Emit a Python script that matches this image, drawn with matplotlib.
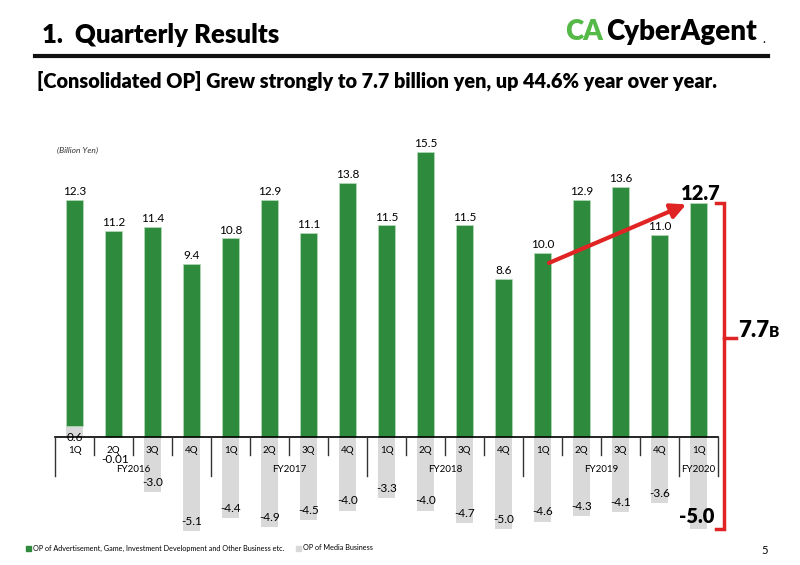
import numpy as np
import matplotlib
matplotlib.use("Agg")
import matplotlib.pyplot as plt

plt.rcParams['font.family'] = ['Lato', 'DejaVu Sans']

quarters = ['1Q', '2Q', '3Q', '4Q'] * 4 + ['1Q']
fiscal_years = ['FY2016', 'FY2017', 'FY2018', 'FY2019', 'FY2020']
fy_centers = [1.5, 5.5, 9.5, 13.5, 16]
other_op = [12.3, 11.2, 11.4, 9.4, 10.8, 12.9, 11.1, 13.8, 11.5, 15.5,
            11.5, 8.6, 10.0, 12.9, 13.6, 11.0, 12.7]
media_op = [0.6, -0.01, -3.0, -5.1, -4.4, -4.9, -4.5, -4.0, -3.3, -4.0,
            -4.7, -5.0, -4.6, -4.3, -4.1, -3.6, -5.0]
media_labels = ['0.6', '-0.01', '-3.0', '-5.1', '-4.4', '-4.9', '-4.5', '-4.0', '-3.3',
                '-4.0', '-4.7', '-5.0', '-4.6', '-4.3', '-4.1', '-3.6', '-5.0']

GREEN = '#2e8b3e'
GREY = '#d9d9d9'
RED = '#e02424'

W, H = 800, 565
fig = plt.figure(figsize=(8, 5.65), dpi=100)

# axes placed in pixel space: x 55..718, y 140..545
left, right, top, bottom = 55, 718, 140, 545
ax = fig.add_axes([left / W, 1 - bottom / H, (right - left) / W, (bottom - top) / H])
ppu = 18.4
zero_y = 437
ax.set_xlim(-0.5, len(other_op) - 0.5)
ax.set_ylim(-(bottom - zero_y) / ppu, (zero_y - top) / ppu)
ax.axis('off')

x = np.arange(len(other_op))
media = np.array(media_op)
base = np.where(media > 0, media, 0)
ax.bar(x, media, width=0.44, color=GREY, zorder=1)
ax.bar(x, other_op, bottom=base, width=0.44, color=GREEN,
       edgecolor='#b5dbb9', linewidth=0.5, zorder=2)

# zero line and separators
ax.plot([-0.5, len(x) - 0.5], [0, 0], color='black', lw=1.2, clip_on=False, zorder=3)
for i in range(len(x) + 1):
    long_tick = i in (0, 4, 8, 12, 16, 17)
    ax.plot([i - 0.5, i - 0.5], [0, -2.1 if long_tick else -1.0],
            color='#333333', lw=1.0, clip_on=False, zorder=3)
for i, q in enumerate(quarters):
    ax.text(i, -0.72, q, ha='center', va='center', fontsize=7, zorder=4)
for c, fy in zip(fy_centers, fiscal_years):
    ax.text(c, -1.75, fy, ha='center', va='center', fontsize=7, zorder=4)

# value labels
for i in range(len(x) - 1):
    ax.annotate(f'{other_op[i]:.1f}', (i, other_op[i] + base[i]), xytext=(0, 2),
                textcoords='offset points', ha='center', va='bottom', fontsize=8.5)
    if media[i] > 0:
        ax.text(i, media[i] * 0.45, media_labels[i], ha='center', va='top', fontsize=8.5, zorder=4)
    elif media[i] > -0.5:
        ax.text(i + 0.05, -1.22, media_labels[i], ha='center', va='center', fontsize=8.5, zorder=4)
    else:
        ax.annotate(media_labels[i], (i, media[i]), xytext=(0, 3),
                    textcoords='offset points', ha='center', va='bottom', fontsize=8.5)
last = len(x) - 1
ax.annotate(f'{other_op[last]:.1f}', (last, other_op[last]), xytext=(2, 0),
            textcoords='offset points', ha='center', va='bottom', fontsize=14.5, fontweight='heavy')
ax.annotate(media_labels[last], (last, media[last]), xytext=(-1, 2),
            textcoords='offset points', ha='center', va='bottom', fontsize=14.5, fontweight='heavy')

# growth arrow
ax.annotate('', xy=(last - 0.25, other_op[last]), xytext=(12.1, 9.4),
            arrowprops=dict(arrowstyle='-|>,head_length=0.9,head_width=0.45',
                            color=RED, lw=3), zorder=5)

# bracket
bx = 16.65
ax.plot([16.45, bx, bx, 16.45], [other_op[last], other_op[last], media[last], media[last]],
        color=RED, lw=2.5, clip_on=False, solid_joinstyle='miter')
ax.plot([bx, bx + 0.32], [5.4, 5.4], color=RED, lw=2.5, clip_on=False)
ax.text(bx + 0.36, 5.45, '7.7', fontsize=16, fontweight='heavy', va='baseline', ha='left')
ax.text(bx + 1.15, 5.45, 'B', fontsize=11, fontweight='heavy', va='baseline', ha='left')

# headers
fig.text(42 / W, 1 - 35 / H, '1.  Quarterly Results', fontsize=18.5, fontweight='heavy', va='center')
fig.add_artist(plt.Line2D([35 / W, 768 / W], [1 - 56 / H] * 2, color='#111111', lw=3))
fig.text(37 / W, 1 - 81 / H,
         '[Consolidated OP] Grew strongly to 7.7 billion yen, up 44.6% year over year.',
         fontsize=14.3, fontweight='heavy', va='center')
fig.text(565 / W, 1 - 32 / H, 'CA', fontsize=20, fontweight='heavy', color='#55b947', va='center')
fig.text(606 / W, 1 - 32 / H, 'CyberAgent', fontsize=20, fontweight='heavy', color='black', va='center')
fig.text(762 / W, 1 - 39 / H, '.', fontsize=9, color='black', va='center')
fig.text(57 / W, 1 - 150 / H, '(Billion Yen)', fontsize=6, style='italic', color='#333333', va='center')

# legend
fig.add_artist(plt.Rectangle((26 / W, 1 - 551 / H), 5 / W, 5 / H, color=GREEN))
fig.text(33 / W, 1 - 548 / H, 'OP of Advertisement, Game, Investment Development and Other Business etc.',
         fontsize=5.2, va='center')
fig.add_artist(plt.Rectangle((296 / W, 1 - 551 / H), 5 / W, 5 / H, color=GREY))
fig.text(303 / W, 1 - 548 / H, 'OP of Media Business', fontsize=5.2, va='center')
fig.text(765 / W, 1 - 550 / H, '5', fontsize=8, va='center', ha='center')

fig.savefig('out.png', dpi=100)
